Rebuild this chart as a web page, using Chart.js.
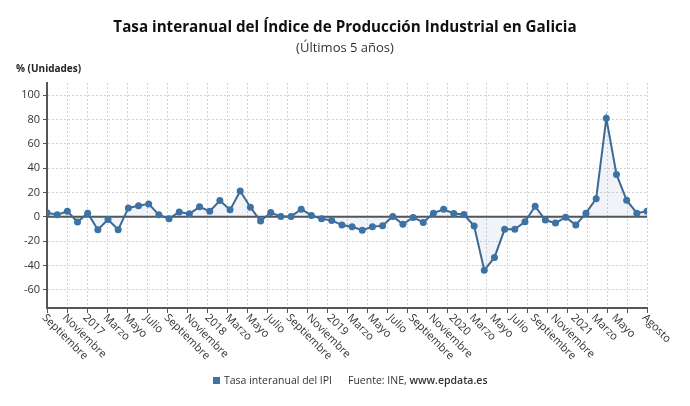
<!DOCTYPE html>
<html>
<head>
<meta charset="utf-8">
<script src="https://cdn.jsdelivr.net/npm/chart.js@4.4.1/dist/chart.umd.min.js"></script>
<style>
  html, body { margin: 0; padding: 0; background: #fff; }
  #caja { width: 690px; height: 406px; }
</style>
</head>
<body>
<div id="caja"><canvas id="grafico"></canvas></div>
<script>
// meses de sep-2016 a ago-2021 (enero se rotula con el año)
const meses = [
  'Septiembre', 'Octubre', 'Noviembre', 'Diciembre',
  '2017', 'Febrero', 'Marzo', 'Abril', 'Mayo', 'Junio', 'Julio', 'Agosto', 'Septiembre', 'Octubre', 'Noviembre', 'Diciembre',
  '2018', 'Febrero', 'Marzo', 'Abril', 'Mayo', 'Junio', 'Julio', 'Agosto', 'Septiembre', 'Octubre', 'Noviembre', 'Diciembre',
  '2019', 'Febrero', 'Marzo', 'Abril', 'Mayo', 'Junio', 'Julio', 'Agosto', 'Septiembre', 'Octubre', 'Noviembre', 'Diciembre',
  '2020', 'Febrero', 'Marzo', 'Abril', 'Mayo', 'Junio', 'Julio', 'Agosto', 'Septiembre', 'Octubre', 'Noviembre', 'Diciembre',
  '2021', 'Febrero', 'Marzo', 'Abril', 'Mayo', 'Junio', 'Julio', 'Agosto'
];

const tasaIPI = [
  3.3, 1.6, 4.6, -4.3,
  3.0, -10.6, -2.2, -10.6, 7.3, 9.0, 10.6, 1.6, -1.6, 4.0, 2.4, 8.2,
  4.6, 13.3, 5.7, 21.2, 7.9, -3.5, 3.5, 0.3, 0.3, 6.2, 1.1, -1.6,
  -3.0, -6.8, -8.2, -11.1, -8.2, -7.3, 0.3, -6.2, -0.5, -4.6, 3.0, 6.2,
  2.7, 1.9, -7.6, -44.0, -33.4, -10.3, -10.3, -4.1, 8.7, -2.7, -5.2, -0.3,
  -6.8, 3.0, 14.9, 81.0, 34.8, 13.6, 3.0, 4.6
];

// meses que llevan rótulo en el eje X
const mesesRotulados = [0, 2, 4, 6, 8, 10, 12, 14, 16, 18, 20, 22, 24, 26, 28, 30,
  32, 34, 36, 38, 40, 42, 44, 46, 48, 50, 52, 54, 56, 59];

const ticksY = [-60, -40, -20, 0, 20, 40, 60, 80, 100];

const azul = '#3d72a4';
const fuente = '"Open Sans", "Noto Sans", sans-serif';

const textos = {
  id: 'textos',
  beforeDatasetsDraw(chart) {
    const { ctx, chartArea, scales: { y } } = chart;
    const y0 = y.getPixelForValue(0);
    ctx.save();
    ctx.strokeStyle = '#555';
    ctx.lineWidth = 2;
    ctx.beginPath();
    ctx.moveTo(chartArea.left, y0);
    ctx.lineTo(chartArea.right, y0);
    ctx.stroke();
    ctx.restore();
  },
  afterDraw(chart) {
    const { ctx, chartArea, scales: { x } } = chart;
    ctx.save();
    ctx.fillStyle = '#111';
    ctx.textAlign = 'center';
    ctx.textBaseline = 'middle';
    ctx.font = 'bold 15.2px ' + fuente;
    ctx.fillText('Tasa interanual del Índice de Producción Industrial en Galicia', 345, 28);
    ctx.fillStyle = '#333';
    ctx.font = '13px ' + fuente;
    ctx.fillText('(Últimos 5 años)', 345, 48);

    ctx.textAlign = 'left';
    ctx.fillStyle = '#222';
    ctx.font = 'bold 10px ' + fuente;
    ctx.fillText('% (Unidades)', 16, 69);

    // rótulos del eje X girados 45º
    ctx.fillStyle = '#333';
    ctx.font = '11px ' + fuente;
    mesesRotulados.forEach(i => {
      const px = x.getPixelForValue(i);
      ctx.save();
      ctx.translate(px - 3, chartArea.bottom + 8);
      ctx.rotate(Math.PI / 4);
      ctx.fillText(meses[i], 0, 0);
      ctx.restore();
    });

    // leyenda y fuente
    ctx.fillStyle = azul;
    ctx.fillRect(213, 377, 7, 7);
    ctx.fillStyle = '#333';
    ctx.font = '10.5px ' + fuente;
    ctx.fillText('Tasa interanual del IPI', 224, 381);
    ctx.fillText('Fuente: INE, ', 348, 381);
    const w = ctx.measureText('Fuente: INE, ').width;
    ctx.font = '600 10.5px ' + fuente;
    ctx.fillText('www.epdata.es', 348 + w, 381);
    ctx.restore();
  }
};

new Chart(document.getElementById('grafico'), {
  type: 'line',
  data: {
    datasets: [{
      label: 'Tasa interanual del IPI',
      data: tasaIPI.map((v, i) => ({ x: i, y: v })),
      borderColor: '#3c6a93',
      borderWidth: 2,
      backgroundColor: 'rgba(62, 114, 160, 0.08)',
      fill: { value: 0 },
      pointRadius: 3.5,
      pointBackgroundColor: azul,
      pointBorderColor: azul,
      pointBorderWidth: 0,
      tension: 0
    }]
  },
  options: {
    responsive: true,
    maintainAspectRatio: false,
    animation: false,
    layout: { padding: { top: 83, right: 43, left: 0, bottom: 0 } },
    plugins: {
      legend: { display: false },
      tooltip: { enabled: false }
    },
    scales: {
      x: {
        type: 'linear',
        min: 0,
        max: meses.length - 1,
        afterBuildTicks: s => {
          const n = 30;
          s.ticks = Array.from({ length: n + 1 }, (_, k) => ({ value: (meses.length - 1) * k / n }));
        },
        afterFit: s => { s.height = 98; },
        ticks: { display: false },
        grid: { color: '#d2d2d2', lineWidth: 1, tickLength: 5, tickColor: '#555' },
        border: { display: true, color: '#555', width: 2, dash: [2, 2] }
      },
      y: {
        min: -75,
        max: 110,
        afterBuildTicks: s => { s.ticks = ticksY.map(v => ({ value: v })); },
        afterFit: s => { s.width = 47; },
        ticks: { color: '#333', font: { family: fuente, size: 11 }, padding: 3 },
        grid: { color: '#d2d2d2', lineWidth: 1, tickLength: 4, tickColor: '#555' },
        border: { display: true, color: '#555', width: 2, dash: [2, 2] }
      }
    }
  },
  plugins: [textos]
});
</script>
</body>
</html>
